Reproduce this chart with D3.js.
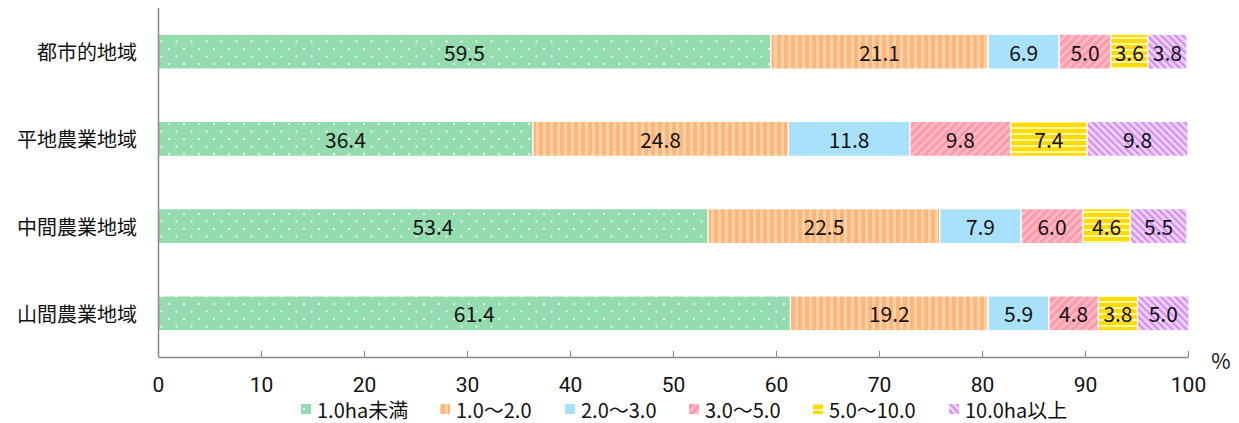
<!DOCTYPE html>
<html><head><meta charset="utf-8">
<script src="https://cdn.jsdelivr.net/npm/d3@7"></script>
<style>
body{margin:0;background:#fff;}
text{font-family:"Noto Sans CJK JP","Noto Sans",sans-serif;}
</style></head>
<body>
<svg id="c" width="1239" height="423"></svg>
<script>
const categories = ["都市的地域","平地農業地域","中間農業地域","山間農業地域"];
const seriesNames = ["1.0ha未満","1.0～2.0","2.0～3.0","3.0～5.0","5.0～10.0","10.0ha以上"];
const s1 = [59.5, 36.4, 53.4, 61.4];
const s2 = [21.1, 24.8, 22.5, 19.2];
const s3 = [6.9, 11.8, 7.9, 5.9];
const s4 = [5.0, 9.8, 6.0, 4.8];
const s5 = [3.6, 7.4, 4.6, 3.8];
const s6 = [3.8, 9.8, 5.5, 5.0];
const xTicks = [0,10,20,30,40,50,60,70,80,90,100];

const series = [s1,s2,s3,s4,s5,s6];
const svg = d3.select("#c");
const defs = svg.append("defs");

function pat(id,w,h,fn,rot){
  const p = defs.append("pattern").attr("id",id).attr("patternUnits","userSpaceOnUse").attr("width",w).attr("height",h);
  if(rot) p.attr("patternTransform","rotate("+rot+")");
  fn(p);
}
pat("p0",15,15,p=>{
  p.append("rect").attr("width",15).attr("height",15).attr("fill","#95dbb0");
  p.append("rect").attr("x",3).attr("y",3).attr("width",2).attr("height",2).attr("fill","#e8f8ee");
  p.append("rect").attr("x",10.5).attr("y",10.5).attr("width",2).attr("height",2).attr("fill","#e8f8ee");
});
pat("p1",7,10,p=>{
  p.append("rect").attr("width",7).attr("height",10).attr("fill","#ffd3a3");
  p.append("rect").attr("x",0).attr("width",4).attr("height",10).attr("fill","#ffb67e");
});
pat("p2",10,10,p=>{
  p.append("rect").attr("width",10).attr("height",10).attr("fill","#a9e1fa");
});
pat("p3",6,10,p=>{
  p.append("rect").attr("width",6).attr("height",10).attr("fill","#ffbac6");
  p.append("rect").attr("width",3).attr("height",10).attr("fill","#ff99ab");
},45);
pat("p4",10,6,p=>{
  p.append("rect").attr("width",10).attr("height",6).attr("fill","#ffdb00");
  p.append("rect").attr("y",1).attr("width",10).attr("height",2).attr("fill","#fff6a8");
});
pat("p5",5,10,p=>{
  p.append("rect").attr("width",5).attr("height",10).attr("fill","#f2d2fb");
  p.append("rect").attr("width",2.2).attr("height",10).attr("fill","#cf90f0");
},-45);

const x = d3.scaleLinear().domain([0,100]).range([158,1188]);
const y = d3.scaleBand().domain(categories).range([8,357]).paddingInner(0.6).paddingOuter(0.3);

categories.forEach((cat,i)=>{
  let cum = 0;
  series.forEach((s,j)=>{
    const v = s[i];
    const g = svg.append("g");
    g.append("rect")
      .attr("x",x(cum)).attr("y",y(cat))
      .attr("width",x(cum+v)-x(cum)).attr("height",y.bandwidth())
      .attr("fill","url(#p"+j+")")
      .attr("stroke","#fff").attr("stroke-width",1.2);
    g.append("text")
      .attr("x",(x(cum)+x(cum+v))/2).attr("y",y(cat)+y.bandwidth()/2)
      .attr("text-anchor","middle").attr("dominant-baseline","central")
      .style("font-size","21px").attr("fill","#111")
      .text(v.toFixed(1));
    cum += v;
  });
});

svg.append("line").attr("x1",158.5).attr("x2",158.5).attr("y1",8).attr("y2",357).attr("stroke","#888").attr("stroke-width",1.5);
categories.forEach(cat=>{
  svg.append("text").attr("x",137).attr("y",y(cat)+y.bandwidth()/2)
    .attr("text-anchor","end").attr("dominant-baseline","central")
    .style("font-size","20px").attr("fill","#111").text(cat);
});

const xAxis = d3.axisBottom(x).tickValues(xTicks).tickSize(-6).tickSizeOuter(0).tickPadding(20);
const ga = svg.append("g").attr("transform","translate(0,357)").call(xAxis);
ga.select(".domain").attr("stroke","#888").attr("stroke-width",1.5);
ga.selectAll(".tick line").attr("stroke","#888");
ga.selectAll(".tick text").style("font-size","21px").attr("fill","#111")
  .style("font-family","Roboto,'Noto Sans',sans-serif").attr("dy","0.71em");
svg.append("text").attr("x",1221).attr("y",360).attr("text-anchor","middle").attr("dominant-baseline","central")
  .style("font-size","21px").attr("fill","#111").text("%");

const legX = [301,440,565,689,813,949];
seriesNames.forEach((n,j)=>{
  svg.append("rect").attr("x",legX[j]).attr("y",404).attr("width",10).attr("height",10).attr("fill","url(#p"+j+")");
  svg.append("text").attr("x",legX[j]+16).attr("y",409).attr("dominant-baseline","central")
    .style("font-size","20px").attr("fill","#111").text(n);
});
</script>
</body></html>
